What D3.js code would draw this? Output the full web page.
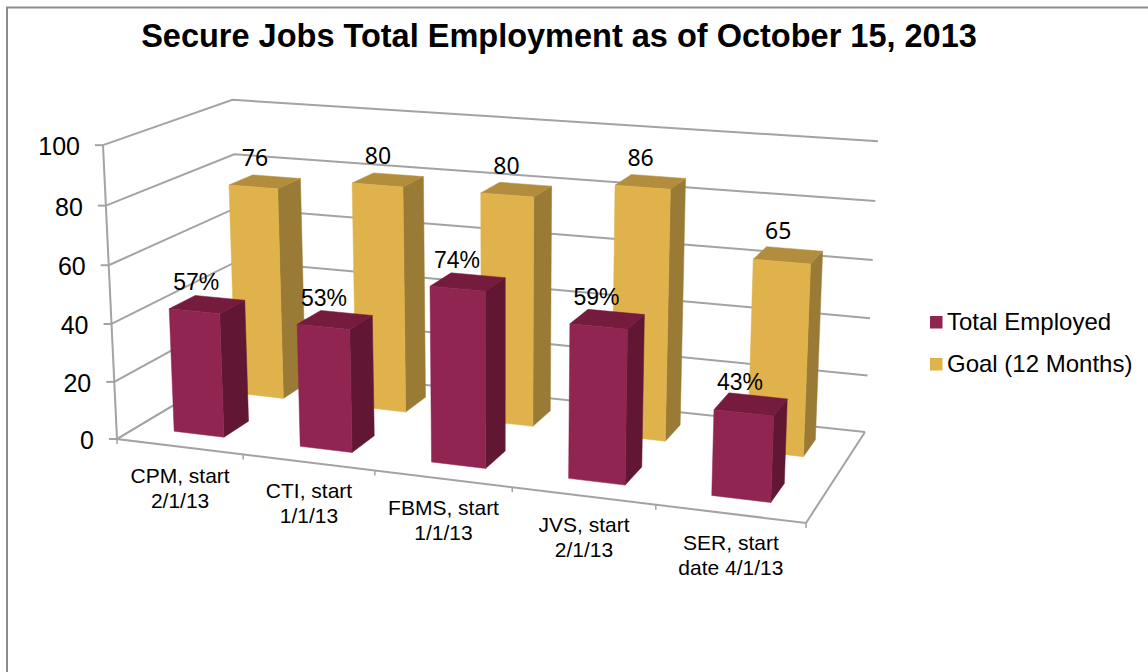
<!DOCTYPE html>
<html>
<head>
<meta charset="utf-8">
<style>
  html, body { margin: 0; padding: 0; background: #fff; }
  svg { display: block; }
  text { font-family: "Liberation Sans", Arial, sans-serif; fill: #000; }
</style>
<script src="https://cdn.jsdelivr.net/npm/d3@7"></script>
</head>
<body>
<svg id="chart" width="1148" height="672"></svg>
<script>
// Chart data
const categories = ["CPM, start|2/1/13", "CTI, start|1/1/13", "FBMS, start|1/1/13", "JVS, start|2/1/13", "SER, start|date 4/1/13"];
const seriesNames = ["Total Employed", "Goal (12 Months)"];
const totalEmployed = [43, 42, 59, 51, 28];
const goal = [76, 80, 80, 86, 65];
const valueTicks = [0, 20, 40, 60, 80, 100];

const colors = {
  "Total Employed": { front: "#8f2550", side: "#611633", top: "#751b3d" },
  "Goal (12 Months)": { front: "#e0b24b", side: "#9a7b35", top: "#b28d3d" }
};

// Camera: floor corners on screen, plus the vanishing point of the vertical edges
const floorQuad = [[117, 439], [806, 523], [865, 432], [241, 365]];
const verticalVanish = [503, 8540];
const verticalStrength = -0.035;

// Projective map from the unit square to homogeneous screen coordinates
function homography(q) {
  const [[x0, y0], [x1, y1], [x2, y2], [x3, y3]] = q;
  const dx1 = x1 - x2, dx2 = x3 - x2, sx = x0 - x1 + x2 - x3;
  const dy1 = y1 - y2, dy2 = y3 - y2, sy = y0 - y1 + y2 - y3;
  const den = dx1 * dy2 - dx2 * dy1;
  const g = (sx * dy2 - dx2 * sy) / den, h = (dx1 * sy - sx * dy1) / den;
  const a = x1 - x0 + g * x1, b = x3 - x0 + h * x3;
  const d = y1 - y0 + g * y1, e = y3 - y0 + h * y3;
  return (u, w) => [a * u + b * w + x0, d * u + e * w + y0, g * u + h * w + 1];
}
const onFloor = homography(floorQuad);

// Scales for the three chart dimensions
const valueScale = d3.scaleLinear().domain([0, 100]).range([0, verticalStrength]);
const categoryScale = d3.scaleBand().domain(categories).range([0, 1]).paddingInner(0.6).paddingOuter(0.3);
const depthScale = d3.scaleBand().domain(seriesNames).range([0, 1]).paddingInner(0.6).paddingOuter(0.3);

function project(u, w, value) {
  const [X, Y, K] = onFloor(u, w);
  const s = valueScale(value);
  const k = K + s;
  return [(X + s * verticalVanish[0]) / k, (Y + s * verticalVanish[1]) / k];
}

const svg = d3.select("#chart");
const line = d3.line();
const GRID = "#a3a3a3";

// Frame: top and left edges only, running off the page
const frame = svg.append("g").attr("fill", "none").attr("stroke", "#8c8c8c").attr("stroke-width", 2);
frame.append("path").attr("d", line([[7, 672], [7, 7.5], [1148, 7.5]]));

// Title
svg.append("text").attr("x", 559).attr("y", 47).attr("text-anchor", "middle")
  .attr("font-size", 32.5).attr("font-weight", "bold")
  .text("Secure Jobs Total Employment as of October 15, 2013");

// Gridlines on the left and back walls
svg.append("g").selectAll("path").data(valueTicks).join("path")
  .attr("fill", "none").attr("stroke", GRID).attr("stroke-width", 2)
  .attr("d", v => line([project(0, 0, v), project(0, 1, v), project(1, 1, v)]));

// Floor edges, value axis, tick marks
const axes = svg.append("g").attr("fill", "none").attr("stroke", GRID).attr("stroke-width", 2);
axes.append("path").attr("d", line([project(0, 1, 0), project(0, 0, 0), project(1, 0, 0), project(1, 1, 0)]));
axes.append("path").attr("d", line([project(0, 0, 0), project(0, 0, 100)]));
axes.selectAll(".vt").data(valueTicks).join("path").attr("class", "vt")
  .attr("d", v => { const p = project(0, 0, v); return line([p, [p[0] - 8, p[1]]]); });
const boundaries = d3.range(categories.length + 1).map(i => i / categories.length);
axes.selectAll(".ct").data(boundaries).join("path").attr("class", "ct")
  .attr("stroke-width", 1.5)
  .attr("d", u => { const p = project(u, 0, 0); return line([p, [p[0], p[1] + 5]]); });

// Value axis labels
svg.append("g").selectAll("text").data(valueTicks).join("text")
  .attr("font-size", 25).attr("text-anchor", "end").attr("dominant-baseline", "central")
  .attr("x", v => project(0, 0, v)[0] - 23)
  .attr("y", v => project(0, 0, v)[1] + 1)
  .text(v => v);

// Category labels, centred under each floor segment
const catLabels = svg.append("g").selectAll("text").data(categories).join("text")
  .attr("font-size", 21).attr("text-anchor", "middle");
catLabels.each(function (c, i) {
  const a = project(boundaries[i], 0, 0), b = project(boundaries[i + 1], 0, 0);
  const cx = (a[0] + b[0]) / 2, cy = (a[1] + b[1]) / 2 + 36;
  d3.select(this).selectAll("tspan").data(c.split("|")).join("tspan")
    .attr("x", cx).attr("y", (d, k) => cy + k * 25).text(d => d);
});

// One cuboid: top, side and front faces
function drawBar(g, seriesName, category, value) {
  const u0 = categoryScale(category), u1 = u0 + categoryScale.bandwidth();
  const w0 = depthScale(seriesName), w1 = w0 + depthScale.bandwidth();
  const c = colors[seriesName];
  const face = (pts, fill) => g.append("path").attr("d", line(pts) + "Z").attr("fill", fill)
    .attr("stroke", fill).attr("stroke-width", 0.5);
  face([project(u1, w0, 0), project(u1, w1, 0), project(u1, w1, value), project(u1, w0, value)], c.side);
  face([project(u0, w0, value), project(u1, w0, value), project(u1, w1, value), project(u0, w1, value)], c.top);
  face([project(u0, w0, 0), project(u1, w0, 0), project(u1, w0, value), project(u0, w0, value)], c.front);
}

const bars = svg.append("g");
categories.forEach((c, i) => drawBar(bars.append("g"), seriesNames[1], c, goal[i]));
categories.forEach((c, i) => drawBar(bars.append("g"), seriesNames[0], c, totalEmployed[i]));

// Data labels above the bars
function topCentre(seriesName, category, value) {
  return project(categoryScale(category) + categoryScale.bandwidth() / 2,
    depthScale(seriesName) + depthScale.bandwidth() / 2, value);
}
svg.append("g").selectAll("text").data(categories).join("text")
  .attr("font-size", 23).attr("text-anchor", "middle").style("font-family", '"Noto Sans"')
  .attr("x", (c, i) => topCentre(seriesNames[1], c, goal[i])[0] - 10)
  .attr("y", (c, i) => topCentre(seriesNames[1], c, goal[i])[1] - 16)
  .text((c, i) => goal[i]);
svg.append("g").selectAll("text").data(categories).join("text")
  .attr("font-size", 23).attr("text-anchor", "middle")
  .attr("x", (c, i) => topCentre(seriesNames[0], c, totalEmployed[i])[0] - 11)
  .attr("y", (c, i) => topCentre(seriesNames[0], c, totalEmployed[i])[1] - 14)
  .text((c, i) => Math.round(totalEmployed[i] / goal[i] * 100) + "%");

// Legend
const legend = svg.append("g").selectAll("g").data(seriesNames).join("g")
  .attr("transform", (d, i) => `translate(930,${316 + i * 42})`);
legend.append("rect").attr("width", 12.5).attr("height", 12.5).attr("fill", d => colors[d].front);
legend.append("text").attr("x", 17).attr("y", 14).attr("font-size", 24).text(d => d);
</script>
</body>
</html>
